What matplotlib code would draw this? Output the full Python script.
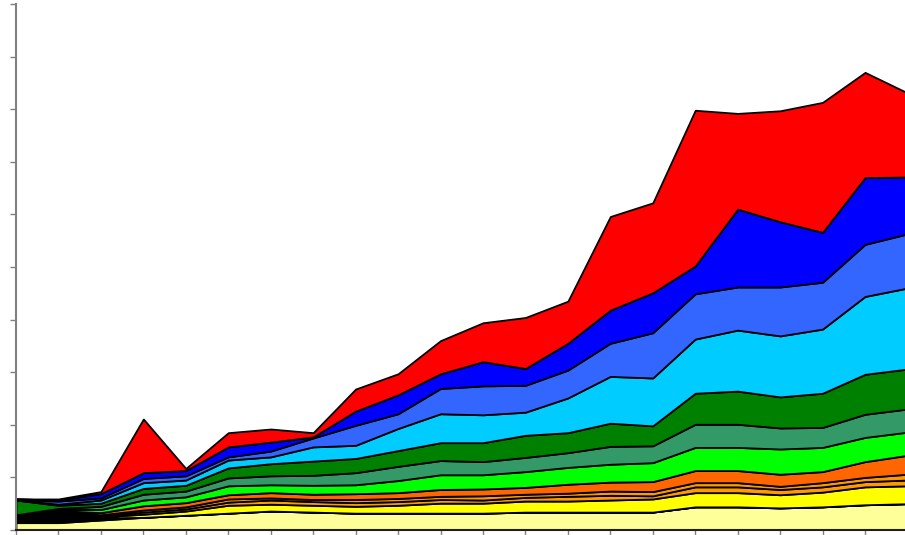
import numpy as np
import matplotlib
matplotlib.use('Agg')
import matplotlib.pyplot as plt

# Pontos do eixo x (22 periodos)
periodos = list(range(22))

# Series empilhadas (de baixo para cima)
amarelo_claro = [7, 7, 9.5, 12, 14, 16, 18, 17, 16, 16, 16, 16, 17, 17, 17, 17, 22, 22, 21, 22, 24, 25]
preto = [7.5, 8.5, 2, 0, 0, 0, 0, 0, 0, 0, 0, 0, 0, 0, 0, 0, 0, 0, 0, 0, 0, 0]
amarelo = [0, 1, 1, 3, 4, 7.5, 6.5, 6.5, 6.5, 7.5, 9.5, 9.5, 10.5, 10.5, 11.5, 12.5, 13.5, 13.5, 12.5, 14, 17, 17]
ouro = [0, 0, 1, 2, 2, 3, 4, 3.5, 3.5, 3.5, 3.5, 3, 3.5, 4.5, 4.5, 3, 5.5, 5.5, 5, 5, 5, 5.5]
laranja_claro = [0, 1, 1, 2, 2, 3, 2, 2, 3, 3, 3, 4, 3, 3, 4, 4, 4, 4, 3, 4, 4, 5.5]
laranja = [0, 1, 2, 4, 4, 4, 5, 5, 5.5, 5.5, 6.5, 6.5, 6.5, 8.5, 8.5, 9.5, 11.5, 11.5, 11.5, 10.5, 15, 18]
verde = [0, 1, 3, 5.5, 5.5, 8.5, 7.5, 8.5, 8.5, 11.5, 14, 13.5, 15, 16, 17, 18, 22, 22, 24, 23, 23, 22]
verde_mar = [0, 1, 3, 5.5, 5.5, 7.5, 8.5, 9.5, 11.5, 13.5, 13.5, 12.5, 13.5, 14, 17, 16, 22, 22, 20, 19, 22, 22]
verde_escuro = [14, 3, 3, 5.5, 5.5, 9.5, 11.5, 13.5, 13.5, 15, 17, 18, 21, 19, 22, 19, 29.5, 31.5, 29.5, 32.5, 38, 38]
azul_ceu = [0, 1, 3, 5.5, 5, 7.5, 6.5, 13.5, 12.5, 21, 27.5, 26.5, 22, 33, 44.5, 45.5, 51.5, 58, 58, 61, 74, 77]
azul_medio = [0, 3, 2, 4, 4, 3, 5.5, 8.5, 19, 14, 24, 27.5, 25.5, 26.5, 31.5, 43, 43, 41, 46.5, 44.5, 49.5, 51.5]
azul = [1, 1, 4, 5.5, 5, 9.5, 8.5, 1, 13.5, 18, 14, 23, 16, 25.5, 31.5, 38, 26.5, 74, 62, 47.5, 63.5, 54]
vermelho = [0, 1, 2, 51, 2, 13.5, 12.5, 4, 21, 20, 31.5, 37, 48.5, 40, 89, 85.5, 148, 91, 105.5, 123.5, 100, 80]

series = [amarelo_claro, preto, amarelo, ouro, laranja_claro, laranja, verde,
          verde_mar, verde_escuro, azul_ceu, azul_medio, azul, vermelho]
cores = ['#FFFF99', '#000000', '#FFFF00', '#FF9900', '#FF9900', '#FF6600', '#00FF00',
         '#339966', '#008000', '#00CCFF', '#3366FF', '#0000FF', '#FF0000']

fig = plt.figure(figsize=(9.05, 5.35), dpi=100)
ax = fig.add_axes([16 / 905, 5 / 535, 891.5 / 905, 526 / 535])

ax.stackplot(periodos, *series, colors=cores, edgecolor='black', linewidth=1.3)

ax.set_xlim(0, 21)
ax.set_ylim(0, 500)
ax.set_xticks(periodos)
ax.set_yticks(np.arange(0, 501, 50))
ax.tick_params(axis='both', direction='out', length=4, width=1, color='#808080',
               labelleft=False, labelbottom=False)

ax.spines['top'].set_visible(False)
ax.spines['right'].set_visible(False)
ax.spines['left'].set_color('#808080')
ax.spines['left'].set_linewidth(1.5)
ax.spines['bottom'].set_color('#202020')
ax.spines['bottom'].set_linewidth(1.5)

fig.savefig('out.png', dpi=100)
